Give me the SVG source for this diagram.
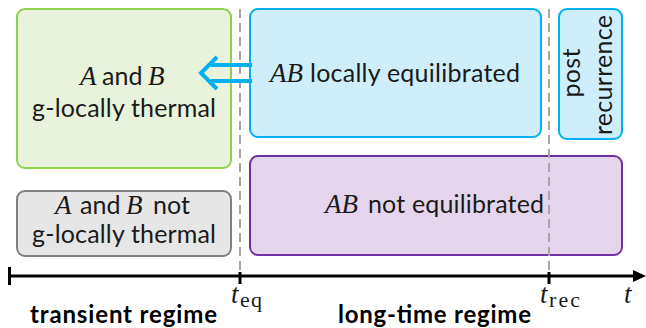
<svg xmlns="http://www.w3.org/2000/svg" width="646" height="328" viewBox="0 0 646 328">
<style>
.s{font-family:Lato,"Open Sans","Liberation Sans",sans-serif;font-size:25px;fill:#1a1a1a}
.b{font-family:Lato,"Open Sans","Liberation Sans",sans-serif;font-size:24px;font-weight:bold;fill:#000}
.m{font-family:"Liberation Serif","DejaVu Serif",serif;font-size:27px;font-style:italic}
.sub{font-family:"Liberation Serif","DejaVu Serif",serif;font-size:22px;fill:#1a1a1a}
.dash{stroke:#a6a6a6;stroke-width:2;stroke-dasharray:9 5;fill:none}
.box{stroke-width:2}
</style>
<rect width="646" height="328" fill="#fff"/>
<g id="node-green">
<rect class="box" x="17" y="9" width="214" height="159" rx="8" fill="#e9f3dc" stroke="#92d050"/>
<text class="s" y="85"><tspan class="m" x="80">A</tspan><tspan x="102">and</tspan><tspan class="m" x="148">B</tspan></text>
<text class="s" x="32" y="117" textLength="184">g-locally thermal</text>
</g>
<g id="node-gray">
<rect class="box" x="17" y="191" width="214" height="65" rx="8" fill="#e6e6e6" stroke="#808080"/>
<text class="s" y="214"><tspan class="m" x="55">A</tspan><tspan x="80">and</tspan><tspan class="m" x="126">B</tspan><tspan x="153">not</tspan></text>
<text class="s" x="32" y="243" textLength="184">g-locally thermal</text>
</g>
<g id="node-blue">
<rect class="box" x="250" y="9" width="291" height="128" rx="8" fill="#cdeefa" stroke="#00b0f0"/>
<text class="m" x="270" y="82" fill="#1a1a1a">AB</text>
<text class="s" x="310" y="82" textLength="210">locally equilibrated</text>
</g>
<g id="node-post">
<rect class="box" x="559" y="9" width="63" height="130" rx="8" fill="#cdeefa" stroke="#00b0f0"/>
<text class="s" transform="translate(580,73) rotate(-90)" text-anchor="middle" textLength="49">post</text>
<text class="s" transform="translate(612,75) rotate(-90)" text-anchor="middle" textLength="120">recurrence</text>
</g>
<g id="node-purple">
<rect class="box" x="250" y="156" width="372" height="99" rx="8" fill="#e4d5ec" stroke="#7030a0"/>
<text class="m" x="325" y="213" fill="#1a1a1a">AB</text>
<text class="s" x="368" y="213" textLength="176">not equilibrated</text>
</g>
<g id="guides">
<line class="dash" x1="240" y1="9" x2="240" y2="272"/>
<line class="dash" x1="549" y1="9" x2="549" y2="272"/>
</g>
<g id="connectors">
<path d="M252 65 H211 M252 81 H211 M217 57 L201 73 L217 89" fill="none" stroke="#00b0f0" stroke-width="4" stroke-linejoin="miter"/>
</g>
<g id="axis">
<line x1="9" y1="276" x2="636" y2="276" stroke="#000" stroke-width="3"/>
<polygon points="646,276 633,270 633,282" fill="#000"/>
<line x1="9.5" y1="267" x2="9.5" y2="285" stroke="#000" stroke-width="3"/>
<line x1="240" y1="272" x2="240" y2="284" stroke="#000" stroke-width="3"/>
<line x1="549" y1="272" x2="549" y2="284" stroke="#000" stroke-width="3"/>
<text class="m" x="231" y="303" fill="#1a1a1a">t</text>
<text class="sub" x="240" y="307" textLength="22">eq</text>
<text class="m" x="540" y="303" fill="#1a1a1a">t</text>
<text class="sub" x="549" y="307" textLength="31">rec</text>
<text class="m" x="624" y="303" fill="#1a1a1a">t</text>
<text class="b" x="30" y="323" textLength="187">transient regime</text>
<text class="b" x="338" y="323" textLength="193">long-time regime</text>
</g>
</svg>
